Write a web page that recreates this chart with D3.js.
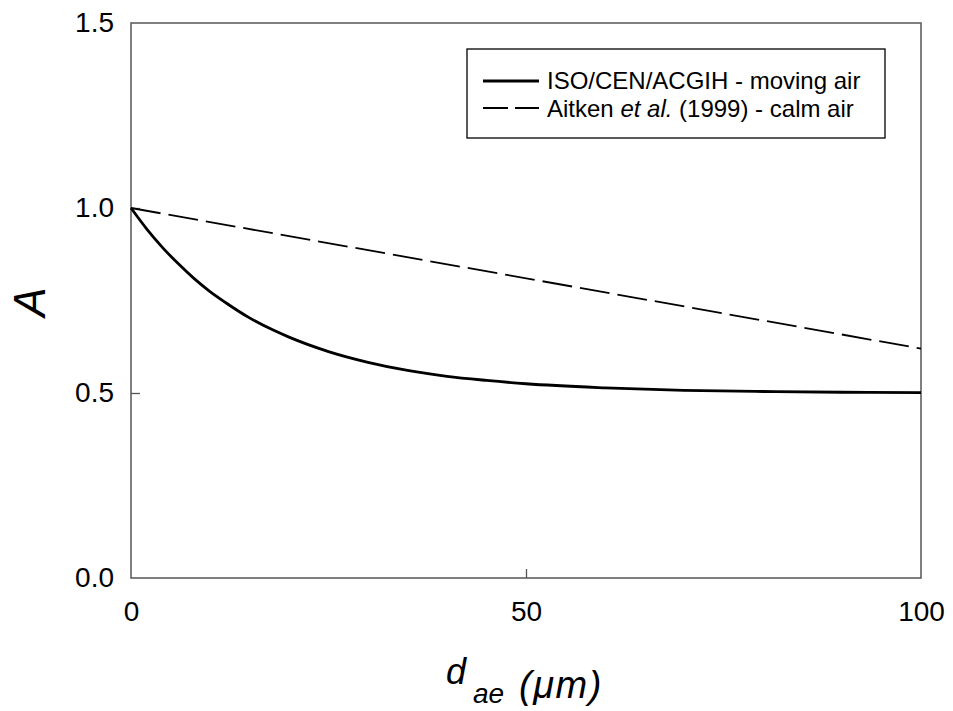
<!DOCTYPE html>
<html><head><meta charset="utf-8">
<script src="https://cdn.jsdelivr.net/npm/d3@7"></script>
<style>body{margin:0;background:#fff}svg{display:block}text{font-family:"Liberation Sans",Arial,sans-serif}</style>
</head><body>
<script>
const isoX = [0,2,4,6,8,10,12,15,18,20,25,30,35,40,45,50,60,70,80,90,100];
const isoA = [1.0,0.943,0.893,0.849,0.809,0.774,0.744,0.703,0.670,0.651,0.612,0.583,0.561,0.545,0.534,0.525,0.514,0.507,0.504,0.502,0.501];
const aitX = [0,100];
const aitA = [1.0,0.62];
const xTicks = [0,50,100];
const yTicks = [0.0,0.5,1.0,1.5];
const seriesNames = ["ISO/CEN/ACGIH - moving air","Aitken et al. (1999) - calm air"];

const W=953,H=711;
const m={l:131,r:921,t:23,b:578};
const svg=d3.select("body").append("svg").attr("width",W).attr("height",H);
const x=d3.scaleLinear().domain([0,100]).range([m.l,m.r]);
const y=d3.scaleLinear().domain([0,1.5]).range([m.b,m.t]);

svg.append("rect").attr("x",m.l).attr("y",m.t).attr("width",m.r-m.l).attr("height",m.b-m.t)
  .attr("fill","none").attr("stroke","#606060").attr("stroke-width",1.6);

const xa=svg.append("g").attr("transform",`translate(0,${m.b})`)
  .call(d3.axisBottom(x).tickValues(xTicks).tickSize(-9).tickPadding(23).tickFormat(d3.format("d")));
const ya=svg.append("g").attr("transform",`translate(${m.l},0)`)
  .call(d3.axisLeft(y).tickValues(yTicks).tickSize(-9).tickPadding(17).tickFormat(d3.format(".1f")));
[xa,ya].forEach(g=>{g.select(".domain").remove();g.selectAll("line").attr("stroke","#555").attr("stroke-width",1.3);
  g.selectAll("text").attr("font-size",28).attr("fill","#000").style("font-family","Liberation Sans, Arial, sans-serif");});
xa.selectAll(".tick").filter(d=>d===0||d===100).select("line").remove();
ya.selectAll(".tick").filter(d=>d===0||d===1.5).select("line").remove();

const line=d3.line().x(d=>x(d[0])).y(d=>y(d[1])).curve(d3.curveMonotoneX);
svg.append("path").datum(isoX.map((v,i)=>[v,isoA[i]])).attr("d",line).attr("fill","none").attr("stroke","#000").attr("stroke-width",2.8);
svg.append("path").datum(aitX.map((v,i)=>[v,aitA[i]])).attr("d",line).attr("fill","none").attr("stroke","#000").attr("stroke-width",1.8).attr("stroke-dasharray","30,8");

// legend
const lg=svg.append("g");
lg.append("rect").attr("x",467).attr("y",49).attr("width",418).attr("height",89).attr("fill","#fff").attr("stroke","#000").attr("stroke-width",1.3);
lg.append("line").attr("x1",483).attr("x2",539).attr("y1",81).attr("y2",81).attr("stroke","#000").attr("stroke-width",2.8);
lg.append("line").attr("x1",483).attr("x2",539).attr("y1",108).attr("y2",108).attr("stroke","#000").attr("stroke-width",1.8).attr("stroke-dasharray","25,7");
lg.append("text").attr("x",547).attr("y",89).attr("font-size",24).text(seriesNames[0]);
const t2=lg.append("text").attr("x",547).attr("y",117).attr("font-size",24);
t2.append("tspan").text("Aitken ");
t2.append("tspan").attr("font-style","italic").text("et al.");
t2.append("tspan").text(" (1999) - calm air");

// axis titles
svg.append("text").attr("transform","translate(45,302) rotate(-90)").attr("text-anchor","middle")
  .attr("font-size",44).attr("font-style","italic").text("A");
const xt=svg.append("text").attr("x",446).attr("y",684).attr("font-size",36).attr("font-style","italic");
xt.append("tspan").text("d");
xt.append("tspan").attr("font-size",28).attr("x",473).attr("y",703).text("ae");
xt.append("tspan").attr("x",519).attr("y",698).attr("font-size",38).attr("letter-spacing",1.5).text("(μm)");
</script>
</body></html>
